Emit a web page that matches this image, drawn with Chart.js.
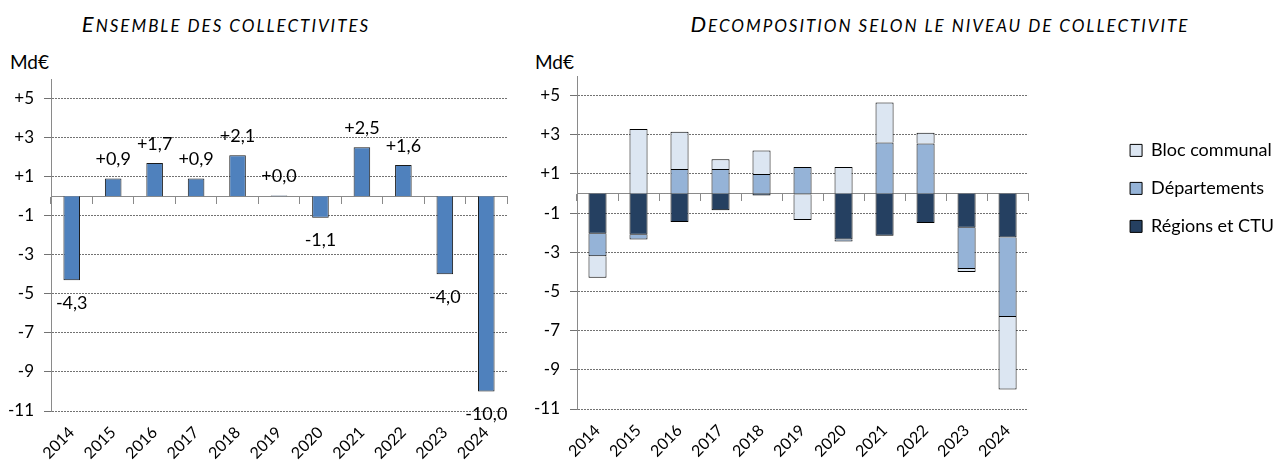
<!DOCTYPE html>
<html>
<head>
<meta charset="utf-8">
<script src="https://cdn.jsdelivr.net/npm/chart.js@4.4.0/dist/chart.umd.min.js"></script>
<style>
  html, body { margin: 0; padding: 0; background: #fff; overflow: hidden; }
  body { width: 1274px; height: 466px; position: relative; font-family: Lato, sans-serif; color: #000; }
  .title { position: absolute; top: 12px; line-height: 24px; font-style: italic; text-transform: uppercase; font-size: 17px; letter-spacing: 2px; white-space: nowrap; transform: translateX(-50%); }
  .title::first-letter { font-size: 22px; }
  .unit { position: absolute; top: 50px; font-size: 19px; }
  .box { position: absolute; top: 0; }
</style>
</head>
<body>
<div class="title" style="left:226px">Ensemble des collectivites</div>
<div class="title" style="left:940px">Decomposition selon le niveau de collectivite</div>
<div class="unit" style="left:10px">Md€</div>
<div class="unit" style="left:535px">Md€</div>
<div class="box" style="left:0"><canvas id="total" width="520" height="466"></canvas></div>
<div class="box" style="left:520px"><canvas id="detail" width="764" height="466"></canvas></div>
<script>
const years = ['2014', '2015', '2016', '2017', '2018', '2019', '2020', '2021', '2022', '2023', '2024'];
// Md€, total for all local authorities
const totals = [-4.3, 0.9, 1.7, 0.9, 2.1, 0.04, -1.1, 2.5, 1.6, -4.0, -10.0];
// breakdown by level
const regionsCtu = [-2.05, -2.1, -1.45, -0.85, -0.1, -0.05, -2.35, -2.15, -1.5, -1.75, -2.25];
const departements = [-1.15, -0.25, 1.25, 1.25, 1.0, 1.35, -0.1, 2.6, 2.55, -2.1, -4.05];
const blocCommunal = [-1.1, 3.3, 1.9, 0.5, 1.2, -1.3, 1.35, 2.05, 0.55, -0.15, -3.7];
const yTicks = [-11, -9, -7, -5, -3, -1, 1, 3, 5];

const gridGray = '#727272';
const axisGray = '#8a8a8a';

function makeScales(yWidth, xHeight) {
  return {
    x: {
      stacked: true,
      grid: { display: false, drawTicks: false },
      border: { display: false },
      ticks: { color: '#000', font: { family: 'Lato', size: 16 }, minRotation: 45, maxRotation: 45, autoSkip: false, padding: 12 },
      afterFit: s => { s.height = xHeight; }
    },
    // the zero line with its category ticks
    xZero: {
      type: 'category', axis: 'x', position: { y: 0 }, offset: true,
      grid: { offset: true, drawOnChartArea: false, tickLength: 7, color: axisGray },
      border: { color: axisGray, width: 1 },
      ticks: { display: false }
    },
    y: {
      stacked: true, min: -11, max: 6,
      afterBuildTicks: s => { s.ticks = yTicks.map(v => ({ value: v })); },
      grid: { color: gridGray, tickLength: 7 },
      border: { color: axisGray, dash: [2, 1] },
      ticks: { color: '#000', font: { family: 'Lato', size: 17 }, padding: 10, callback: v => (v > 0 ? '+' : '') + v },
      afterFit: s => { s.width = yWidth; }
    }
  };
}

const valueLabels = {
  id: 'valueLabels',
  afterDatasetsDraw(chart) {
    const ctx = chart.ctx;
    ctx.save();
    ctx.font = '18px Lato';
    ctx.fillStyle = '#000';
    ctx.textAlign = 'center';
    ctx.textBaseline = 'middle';
    chart.getDatasetMeta(0).data.forEach((bar, i) => {
      const v = totals[i];
      const txt = (v >= 0 ? '+' : '') + v.toFixed(1).replace('.', ',');
      ctx.fillText(txt, bar.x, v >= 0 ? bar.y - 19 : bar.y + 23);
    });
    ctx.restore();
  }
};

new Chart(document.getElementById('total'), {
  type: 'bar',
  data: {
    labels: years,
    datasets: [{
      data: totals,
      backgroundColor: '#4f81bd',
      borderColor: '#1a1a1a',
      borderWidth: 1,
      categoryPercentage: 1,
      barPercentage: 0.4
    }]
  },
  options: {
    responsive: false,
    animation: false,
    layout: { padding: { top: 79, right: 13 } },
    plugins: { legend: { display: false }, tooltip: { enabled: false } },
    scales: makeScales(51, 55)
  },
  plugins: [valueLabels]
});

const detailScales = makeScales(57, 57);
// hidden spacer between the plot and the legend
detailScales.gap = {
  position: 'right',
  display: false,
  afterFit: s => { s.width = 82; }
};

const seg = { borderColor: '#000', borderWidth: 1, categoryPercentage: 1, barPercentage: 0.44 };

new Chart(document.getElementById('detail'), {
  type: 'bar',
  data: {
    labels: years,
    datasets: [
      { label: 'Régions et CTU', data: regionsCtu, backgroundColor: '#254061', ...seg },
      { label: 'Départements', data: departements, backgroundColor: '#95b3d7', ...seg },
      { label: 'Bloc communal', data: blocCommunal, backgroundColor: '#dce6f2', ...seg }
    ]
  },
  options: {
    responsive: false,
    animation: false,
    layout: { padding: { top: 76 } },
    plugins: {
      tooltip: { enabled: false },
      legend: {
        position: 'right',
        align: 'start',
        reverse: true,
        title: { display: true, text: '', padding: { top: 31, bottom: 0 } },
        labels: { color: '#000', font: { family: 'Lato', size: 18 }, boxWidth: 12, boxHeight: 12, padding: 20 }
      }
    },
    scales: detailScales
  }
});
</script>
</body>
</html>
